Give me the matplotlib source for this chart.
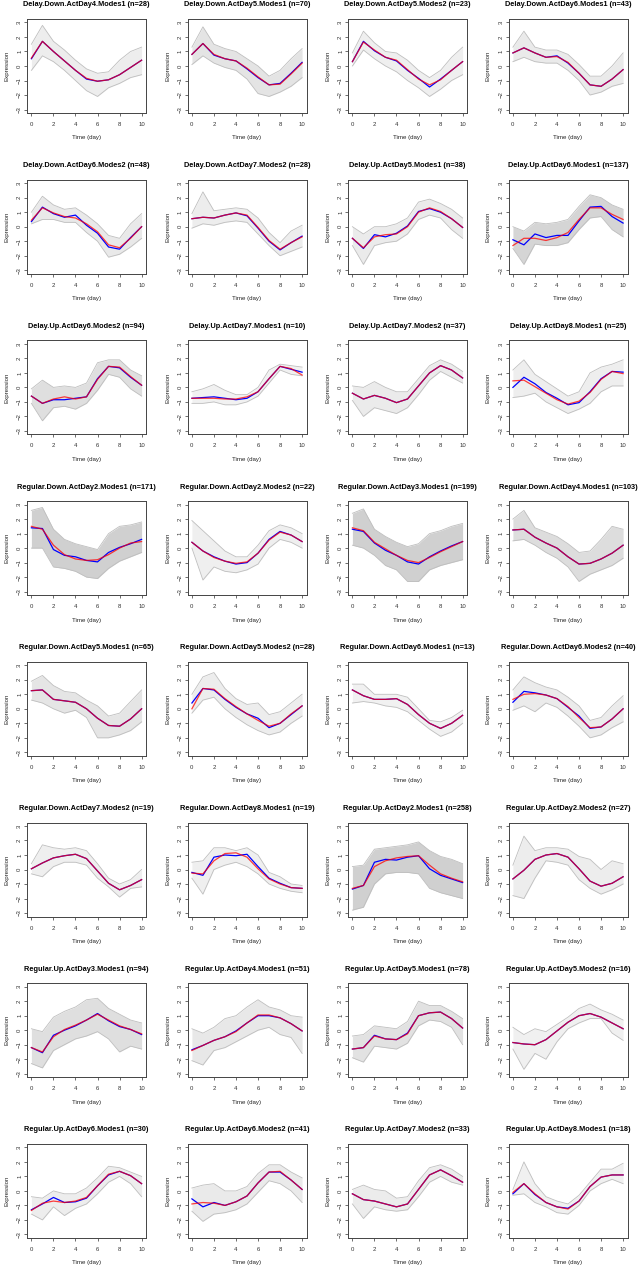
import numpy as np
import matplotlib
matplotlib.use('Agg')
import matplotlib.pyplot as plt

plt.rcParams['font.family'] = ['Liberation Sans', 'DejaVu Sans']

days = [0, 1, 2, 3, 4, 5, 6, 7, 8, 9, 10]

titles = [
    'Delay.Down.ActDay4.Modes1 (n=28)', 'Delay.Down.ActDay5.Modes1 (n=70)',
    'Delay.Down.ActDay5.Modes2 (n=23)', 'Delay.Down.ActDay6.Modes1 (n=43)',
    'Delay.Down.ActDay6.Modes2 (n=48)', 'Delay.Down.ActDay7.Modes2 (n=28)',
    'Delay.Up.ActDay5.Modes1 (n=38)', 'Delay.Up.ActDay6.Modes1 (n=137)',
    'Delay.Up.ActDay6.Modes2 (n=94)', 'Delay.Up.ActDay7.Modes1 (n=10)',
    'Delay.Up.ActDay7.Modes2 (n=37)', 'Delay.Up.ActDay8.Modes1 (n=25)',
    'Regular.Down.ActDay2.Modes1 (n=171)', 'Regular.Down.ActDay2.Modes2 (n=22)',
    'Regular.Down.ActDay3.Modes1 (n=199)', 'Regular.Down.ActDay4.Modes1 (n=103)',
    'Regular.Down.ActDay5.Modes1 (n=65)', 'Regular.Down.ActDay5.Modes2 (n=28)',
    'Regular.Down.ActDay6.Modes1 (n=13)', 'Regular.Down.ActDay6.Modes2 (n=40)',
    'Regular.Down.ActDay7.Modes2 (n=19)', 'Regular.Down.ActDay8.Modes1 (n=19)',
    'Regular.Up.ActDay2.Modes1 (n=258)', 'Regular.Up.ActDay2.Modes2 (n=27)',
    'Regular.Up.ActDay3.Modes1 (n=94)', 'Regular.Up.ActDay4.Modes1 (n=51)',
    'Regular.Up.ActDay5.Modes1 (n=78)', 'Regular.Up.ActDay5.Modes2 (n=16)',
    'Regular.Up.ActDay6.Modes1 (n=30)', 'Regular.Up.ActDay6.Modes2 (n=41)',
    'Regular.Up.ActDay7.Modes2 (n=33)', 'Regular.Up.ActDay8.Modes1 (n=18)',
]
n_genes = [28, 70, 23, 43, 48, 28, 38, 137, 94, 10, 37, 25,
           171, 22, 199, 103, 65, 28, 13, 40, 19, 19, 258, 27,
           94, 51, 78, 16, 30, 41, 33, 18]

# cluster mean (blue)
mean_profiles = [
    [0.5, 1.7, 1.0, 0.35, -0.3, -0.9, -1.05, -0.95, -0.6, -0.1, 0.4],
    [0.8, 1.55, 0.75, 0.5, 0.35, -0.2, -0.8, -1.3, -1.2, -0.5, 0.25],
    [0.3, 1.7, 1.05, 0.6, 0.35, -0.3, -0.85, -1.45, -0.9, -0.3, 0.3],
    [0.9, 1.25, 0.9, 0.6, 0.7, 0.2, -0.5, -1.3, -1.4, -0.9, -0.25],
    [0.35, 1.35, 0.9, 0.65, 0.8, 0.1, -0.45, -1.4, -1.55, -0.75, 0.0],
    [0.55, 0.65, 0.6, 0.8, 0.95, 0.75, -0.1, -1.0, -1.6, -1.1, -0.65],
    [-0.8, -1.5, -0.55, -0.7, -0.45, 0.05, 1.05, 1.25, 1.0, 0.55, -0.05],
    [-0.9, -1.25, -0.5, -0.75, -0.6, -0.6, 0.4, 1.35, 1.4, 0.7, 0.25],
    [-0.6, -1.1, -0.85, -0.85, -0.75, -0.65, 0.6, 1.45, 1.35, 0.7, 0.15],
    [-0.75, -0.7, -0.65, -0.75, -0.85, -0.75, -0.3, 0.6, 1.45, 1.25, 1.05],
    [-0.4, -0.8, -0.55, -0.75, -1.05, -0.8, 0.1, 1.0, 1.5, 1.2, 0.65],
    [0.0, 0.7, 0.25, -0.35, -0.75, -1.2, -1.05, -0.3, 0.6, 1.1, 1.05],
    [1.4, 1.35, -0.1, -0.5, -0.6, -0.85, -0.95, -0.3, 0.05, 0.3, 0.6],
    [0.4, -0.2, -0.6, -0.9, -1.1, -1.0, -0.35, 0.6, 1.15, 0.9, 0.45],
    [1.3, 1.15, 0.35, -0.15, -0.5, -0.95, -1.1, -0.6, -0.2, 0.15, 0.45],
    [1.25, 1.3, 0.75, 0.35, 0.0, -0.6, -1.1, -1.05, -0.75, -0.35, 0.2],
    [1.25, 1.3, 0.65, 0.55, 0.45, 0.0, -0.65, -1.15, -1.2, -0.7, 0.0],
    [0.4, 1.4, 1.3, 0.65, 0.1, -0.35, -0.65, -1.3, -1.0, -0.4, 0.2],
    [1.3, 0.9, 0.65, 0.65, 0.7, 0.3, -0.4, -1.0, -1.35, -1.0, -0.45],
    [0.45, 1.2, 1.1, 0.95, 0.7, 0.1, -0.5, -1.35, -1.25, -0.7, 0.0],
    [0.05, 0.45, 0.8, 0.95, 1.05, 0.75, -0.1, -0.95, -1.4, -1.1, -0.7],
    [-0.2, -0.4, 0.85, 1.0, 0.95, 1.05, 0.2, -0.6, -0.95, -1.25, -1.3],
    [-1.35, -1.1, 0.5, 0.7, 0.65, 0.85, 0.95, 0.05, -0.4, -0.65, -0.9],
    [-0.65, -0.05, 0.7, 1.0, 1.1, 0.85, 0.05, -0.8, -1.15, -0.95, -0.5],
    [-1.2, -1.55, -0.35, 0.0, 0.3, 0.7, 1.15, 0.65, 0.25, 0.05, -0.3],
    [-1.35, -1.05, -0.7, -0.45, -0.05, 0.5, 1.0, 1.0, 0.85, 0.45, -0.05],
    [-1.3, -1.2, -0.35, -0.6, -0.65, -0.2, 1.0, 1.2, 1.25, 0.8, 0.15],
    [-0.85, -0.95, -1.0, -0.65, -0.05, 0.55, 1.0, 1.15, 0.9, 0.5, 0.1],
    [-1.3, -0.9, -0.45, -0.8, -0.75, -0.5, 0.35, 1.1, 1.35, 1.05, 0.5],
    [-0.55, -1.1, -0.8, -1.0, -0.75, -0.35, 0.55, 1.3, 1.3, 0.75, 0.1],
    [-0.2, -0.6, -0.7, -0.9, -1.1, -0.9, 0.1, 1.1, 1.45, 1.05, 0.6],
    [-0.2, 0.5, -0.25, -0.8, -1.1, -1.2, -0.7, 0.3, 0.95, 1.1, 1.1],
]

# smooth fit (red)
fit_profiles = [
    [0.55, 1.7, 1.0, 0.35, -0.3, -0.85, -1.05, -0.95, -0.6, -0.1, 0.4],
    [0.8, 1.55, 0.8, 0.5, 0.35, -0.15, -0.75, -1.3, -1.25, -0.55, 0.2],
    [0.3, 1.65, 1.1, 0.6, 0.4, -0.25, -0.9, -1.3, -0.95, -0.3, 0.3],
    [0.9, 1.25, 0.9, 0.6, 0.65, 0.25, -0.5, -1.3, -1.4, -0.9, -0.25],
    [0.45, 1.3, 0.95, 0.7, 0.6, 0.2, -0.35, -1.25, -1.45, -0.8, 0.0],
    [0.55, 0.65, 0.6, 0.8, 0.95, 0.8, -0.05, -0.95, -1.55, -1.1, -0.7],
    [-0.8, -1.45, -0.7, -0.55, -0.5, 0.0, 1.0, 1.3, 1.05, 0.55, -0.05],
    [-1.3, -0.8, -0.8, -0.95, -0.75, -0.4, 0.5, 1.3, 1.3, 0.85, 0.5],
    [-0.6, -1.1, -0.8, -0.65, -0.8, -0.65, 0.55, 1.45, 1.4, 0.75, 0.15],
    [-0.75, -0.75, -0.75, -0.8, -0.8, -0.65, -0.3, 0.6, 1.45, 1.3, 0.85],
    [-0.4, -0.8, -0.55, -0.75, -1.05, -0.8, 0.1, 1.0, 1.5, 1.2, 0.65],
    [0.45, 0.5, 0.05, -0.4, -0.85, -1.15, -0.95, -0.35, 0.55, 1.1, 0.95],
    [1.5, 1.3, 0.2, -0.45, -0.75, -0.85, -0.8, -0.45, 0.0, 0.35, 0.45],
    [0.4, -0.2, -0.65, -0.9, -1.05, -0.95, -0.35, 0.55, 1.1, 0.9, 0.45],
    [1.4, 1.2, 0.4, -0.05, -0.5, -0.85, -1.0, -0.65, -0.25, 0.1, 0.45],
    [1.25, 1.3, 0.75, 0.35, 0.0, -0.6, -1.1, -1.05, -0.75, -0.35, 0.2],
    [1.25, 1.3, 0.65, 0.55, 0.45, 0.0, -0.65, -1.15, -1.2, -0.7, 0.0],
    [0.0, 1.4, 1.35, 0.7, 0.15, -0.35, -0.8, -1.2, -1.0, -0.35, 0.2],
    [1.3, 0.9, 0.65, 0.65, 0.7, 0.3, -0.4, -1.0, -1.35, -1.0, -0.45],
    [0.65, 1.0, 1.05, 0.95, 0.7, 0.15, -0.6, -1.3, -1.25, -0.7, 0.0],
    [0.05, 0.45, 0.8, 0.95, 1.05, 0.75, -0.1, -0.95, -1.4, -1.1, -0.7],
    [-0.25, -0.3, 0.6, 1.1, 1.15, 0.85, 0.05, -0.65, -1.0, -1.25, -1.3],
    [-1.3, -1.1, 0.2, 0.6, 0.8, 0.9, 0.95, 0.3, -0.3, -0.6, -0.85],
    [-0.65, -0.05, 0.7, 1.0, 1.1, 0.85, 0.05, -0.8, -1.15, -0.95, -0.5],
    [-1.2, -1.5, -0.45, 0.05, 0.35, 0.7, 1.1, 0.7, 0.3, 0.05, -0.25],
    [-1.4, -1.05, -0.7, -0.45, -0.1, 0.5, 1.05, 1.05, 0.85, 0.45, -0.05],
    [-1.3, -1.2, -0.4, -0.6, -0.65, -0.25, 1.0, 1.2, 1.25, 0.8, 0.15],
    [-0.85, -0.95, -1.0, -0.65, -0.05, 0.55, 1.0, 1.15, 0.9, 0.5, 0.1],
    [-1.35, -0.85, -0.7, -0.8, -0.7, -0.45, 0.35, 1.15, 1.35, 1.05, 0.5],
    [-0.9, -0.8, -0.85, -1.0, -0.75, -0.35, 0.55, 1.3, 1.35, 0.75, 0.1],
    [-0.2, -0.6, -0.7, -0.9, -1.1, -0.9, 0.1, 1.1, 1.45, 1.05, 0.6],
    [-0.1, 0.5, -0.2, -0.8, -1.1, -1.25, -0.7, 0.3, 0.95, 1.1, 1.1],
]

# spread of the individual gene profiles (grey)
upper = [
    [1.5, 2.8, 1.7, 1.1, 0.4, -0.2, -0.5, -0.4, 0.4, 1.0, 1.3],
    [1.3, 2.7, 1.5, 1.2, 1.0, 0.5, 0.0, -0.7, -0.3, 0.5, 1.2],
    [0.9, 2.4, 1.6, 1.0, 0.9, 0.4, -0.3, -0.8, -0.3, 0.6, 1.3],
    [1.3, 2.4, 1.3, 1.1, 1.1, 0.8, 0.1, -0.7, -0.7, 0.0, 0.9],
    [1.0, 2.1, 1.5, 1.2, 1.3, 0.8, 0.2, -0.6, -0.8, 0.2, 0.9],
    [0.9, 2.4, 1.1, 1.2, 1.3, 1.2, 0.6, -0.4, -1.1, -0.3, 0.1],
    [0.0, -0.5, 0.0, 0.0, 0.2, 0.6, 1.7, 1.9, 1.6, 1.2, 0.6],
    [0.0, -0.3, 0.3, 0.2, 0.3, 0.5, 1.4, 2.2, 2.0, 1.5, 1.2],
    [-0.1, 0.5, 0.0, 0.1, 0.0, 0.3, 1.7, 1.9, 1.9, 1.2, 0.8],
    [-0.3, -0.1, 0.2, -0.2, -0.5, -0.5, 0.0, 1.2, 1.6, 1.5, 1.4],
    [0.1, 0.0, 0.4, 0.0, -0.3, -0.3, 0.6, 1.5, 1.9, 1.6, 1.1],
    [1.2, 1.9, 0.9, 0.4, -0.1, -0.6, -0.3, 1.0, 1.4, 1.6, 1.9],
    [2.6, 2.8, 1.3, 0.6, 0.3, 0.1, -0.1, 1.0, 1.5, 1.6, 1.8],
    [1.9, 1.2, 0.5, -0.2, -0.6, -0.6, 0.2, 1.2, 1.6, 1.4, 1.0],
    [2.4, 2.7, 1.3, 0.8, 0.4, 0.1, 0.3, 1.0, 1.2, 1.5, 1.7],
    [2.0, 2.6, 1.4, 1.1, 0.8, 0.3, -0.3, -0.2, 0.6, 1.5, 1.3],
    [1.9, 2.3, 1.6, 1.2, 1.1, 0.6, 0.2, -0.5, -0.3, 0.5, 1.3],
    [1.0, 2.2, 2.5, 1.4, 0.7, 0.3, 0.4, -0.4, -0.2, 0.4, 1.0],
    [1.7, 1.7, 1.0, 1.0, 1.0, 0.8, 0.0, -0.8, -0.9, -0.6, -0.1],
    [1.3, 2.2, 1.8, 1.5, 1.3, 0.8, 0.2, -0.8, -0.6, 0.2, 0.9],
    [0.4, 1.7, 1.5, 1.4, 1.5, 1.3, 0.4, -0.6, -1.0, -0.7, 0.0],
    [0.5, 0.6, 1.5, 1.5, 1.3, 1.5, 1.0, -0.2, -0.5, -1.0, -1.1],
    [0.2, 0.3, 1.4, 1.5, 1.6, 1.7, 1.9, 1.3, 0.9, 0.7, 0.4],
    [0.3, 2.3, 1.3, 1.5, 1.5, 1.4, 0.9, 0.7, 0.0, 0.6, 0.4],
    [0.1, -0.1, 0.9, 1.3, 1.6, 2.1, 2.2, 1.5, 1.1, 0.7, 0.5],
    [0.1, -0.2, 0.2, 0.8, 1.0, 1.6, 2.1, 1.6, 1.4, 1.0, 0.9],
    [-0.4, -0.3, 0.3, 0.2, 0.1, 0.6, 2.0, 1.7, 1.7, 1.3, 0.8],
    [0.2, -0.3, 0.1, -0.1, 0.4, 0.9, 1.5, 1.8, 1.4, 1.1, 0.7],
    [-0.4, -0.5, 0.0, -0.2, -0.2, 0.2, 0.9, 1.7, 1.6, 1.3, 1.0],
    [0.2, 0.4, 0.5, 0.0, 0.0, 0.3, 1.2, 1.8, 1.8, 1.3, 0.9],
    [0.1, 0.4, 0.1, 0.0, -0.5, -0.4, 0.7, 1.6, 1.8, 1.5, 1.0],
    [0.1, 2.0, 0.5, -0.4, -0.7, -0.9, -0.3, 0.6, 1.5, 1.5, 1.9],
]
lower = [
    [-0.3, 0.7, 0.3, -0.3, -1.0, -1.7, -2.1, -1.5, -1.2, -0.8, -0.6],
    [0.1, 0.7, 0.2, -0.1, -0.3, -0.9, -1.9, -2.1, -1.8, -1.4, -0.8],
    [0.0, 1.1, 0.5, 0.0, -0.4, -1.0, -1.5, -2.1, -1.6, -1.0, -0.6],
    [0.3, 0.6, 0.3, 0.2, 0.2, -0.3, -1.0, -2.0, -1.8, -1.4, -1.2],
    [0.2, 0.5, 0.5, 0.3, 0.3, -0.4, -1.0, -2.1, -1.9, -1.4, -0.8],
    [-0.1, 0.2, 0.1, 0.3, 0.4, 0.3, -0.5, -1.3, -2.0, -1.7, -1.4],
    [-1.3, -2.6, -1.3, -1.1, -1.0, -0.5, 0.5, 0.8, 0.6, -0.2, -0.8],
    [-1.5, -2.6, -1.2, -1.3, -1.3, -1.1, -0.2, 0.6, 0.7, -0.2, -0.7],
    [-1.1, -2.3, -1.4, -1.3, -1.5, -1.1, -0.2, 0.9, 0.7, -0.1, -0.6],
    [-1.1, -1.1, -1.0, -1.2, -1.2, -1.0, -0.6, 0.3, 1.2, 0.9, 0.8],
    [-0.9, -2.0, -1.4, -1.6, -1.8, -1.4, -0.5, 0.5, 1.1, 0.7, 0.3],
    [-0.7, -0.6, -0.4, -1.0, -1.4, -1.8, -1.5, -1.1, -0.3, 0.1, 0.1],
    [0.0, 0.0, -1.3, -1.4, -1.6, -2.0, -2.1, -1.4, -0.9, -0.6, -0.3],
    [0.0, -2.2, -1.3, -1.6, -1.7, -1.5, -1.1, 0.0, 0.6, 0.4, 0.0],
    [0.2, 0.0, -0.5, -1.2, -1.5, -2.3, -2.3, -1.5, -1.2, -1.0, -0.8],
    [0.5, 0.6, 0.2, -0.3, -0.7, -1.3, -2.3, -1.8, -1.5, -1.2, -0.7],
    [0.6, 0.4, 0.0, -0.3, -0.1, -0.6, -2.0, -2.0, -1.8, -1.5, -0.9],
    [-0.3, 0.6, 0.8, 0.0, -0.6, -1.1, -1.5, -1.8, -1.6, -1.0, -0.5],
    [0.4, 0.5, 0.4, 0.2, 0.1, -0.2, -0.8, -1.4, -1.9, -1.6, -1.0],
    [-0.1, 0.2, -0.2, 0.4, 0.1, -0.5, -1.2, -2.0, -1.8, -1.3, -0.9],
    [-0.3, -0.5, 0.2, 0.5, 0.5, 0.3, -0.6, -1.2, -1.9, -1.3, -1.2],
    [-0.6, -1.7, 0.0, 0.3, 0.5, 0.2, -0.3, -1.0, -1.3, -1.5, -1.6],
    [-2.8, -2.6, -1.0, -0.3, -0.2, -0.2, -0.3, -1.3, -1.6, -1.8, -2.0],
    [-1.8, -2.0, -0.6, 0.6, 0.5, 0.3, -0.7, -1.3, -1.7, -1.4, -1.0],
    [-2.3, -2.6, -1.4, -1.0, -0.6, -0.4, -0.1, -0.6, -1.5, -1.1, -1.3],
    [-2.1, -2.4, -1.4, -1.2, -0.8, -0.4, 0.0, 0.2, -0.3, -0.5, -1.6],
    [-1.9, -2.2, -1.1, -1.2, -1.3, -0.9, 0.3, 0.7, 0.6, 0.2, -1.0],
    [-1.3, -2.7, -1.6, -2.0, -0.8, 0.1, 0.5, 0.8, 0.8, -0.2, -0.7],
    [-1.6, -2.0, -1.1, -1.7, -1.2, -0.9, -0.2, 0.6, 1.0, 0.5, -0.4],
    [-1.4, -2.1, -1.6, -1.5, -1.3, -0.9, -0.1, 0.7, 0.5, 0.0, -0.8],
    [-0.9, -1.9, -1.1, -1.3, -1.4, -1.3, -0.4, 0.6, 1.0, 0.6, 0.4],
    [-0.3, -0.2, -0.8, -1.1, -1.5, -1.6, -1.0, 0.0, 0.5, 0.8, 0.5],
]

W, H = 641, 1274
fig = plt.figure(figsize=(W / 100, H / 100), dpi=100)

for i in range(len(titles)):
    r, c = divmod(i, 4)
    left = 27 + 160.5 * c
    top = 19 + 160.7 * r
    ax = fig.add_axes([left / W, 1 - (top + 94) / H, 119 / W, 94 / H])

    # denser clusters look more solid grey
    alpha = min(0.85, 0.2 + n_genes[i] / 250.0)
    ax.fill_between(days, lower[i], upper[i], color='#c8c8c8', alpha=alpha, lw=0)
    ax.plot(days, upper[i], color='#bebebe', lw=0.6)
    ax.plot(days, lower[i], color='#bebebe', lw=0.6)
    ax.plot(days, mean_profiles[i], color='blue', lw=0.9)
    ax.plot(days, fit_profiles[i], color='red', lw=0.9, alpha=0.75)

    ax.set_xlim(-0.4, 10.4)
    ax.set_ylim(-3.24, 3.24)
    ax.set_xticks([0, 2, 4, 6, 8, 10])
    ax.set_yticks([-3, -2, -1, 0, 1, 2, 3])
    ax.tick_params(labelsize=4.3, length=2, width=0.5, colors='#333333',
                   pad=4.5)
    ax.tick_params(axis='y', pad=1.5)
    for lab in ax.get_yticklabels():
        lab.set_rotation(90)
        lab.set_va('center')
    for sp in ax.spines.values():
        sp.set_linewidth(0.7)
        sp.set_color('#444444')

    fig.text((left + 59.5) / W, 1 - (top - 14) / H, titles[i],
             ha='center', va='center', fontsize=5.3, fontweight='bold')
    fig.text((left + 59.5) / W, 1 - (top + 119) / H, 'Time (day)',
             ha='center', va='center', fontsize=4.4, color='#222222')
    fig.text((left - 20) / W, 1 - (top + 47) / H, 'Expression',
             ha='center', va='center', rotation=90, fontsize=4.4,
             color='#222222')

fig.savefig('out.png', dpi=100)
